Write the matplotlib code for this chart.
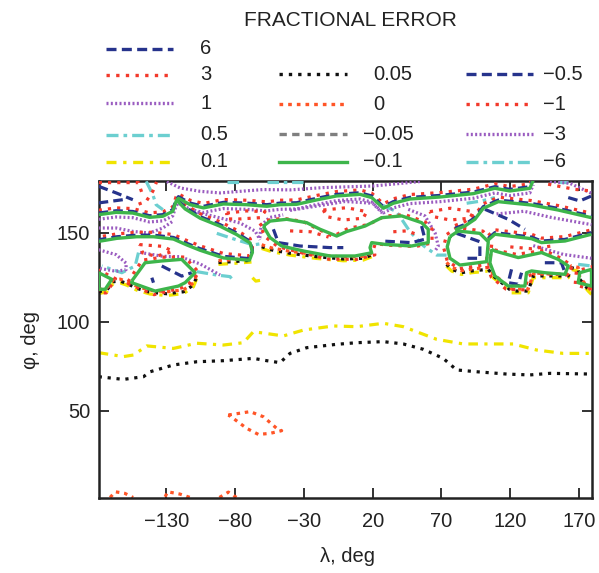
import numpy as np
import matplotlib
matplotlib.use("Agg")
import matplotlib.pyplot as plt
from matplotlib.lines import Line2D

plt.rcParams["font.family"] = ["Liberation Sans", "DejaVu Sans"]

# ---- colours / line styles of the contour levels ----
NAVY = "#26338c"
RED = "#f2392b"
PURPLE = "#9a5cc0"
CYAN = "#6ccfd0"
YELLOW = "#f0e400"
BLACK = "#111111"
ORANGE = "#ff5527"
GRAY = "#7f7f7f"
GREEN = "#3db54b"

DASH = (0, (3.0, 1.6))
DOTS = (0, (1.0, 1.9))
FINE = (0, (0.6, 0.7))
DDOT = (0, (3.6, 1.5, 1.1, 1.5))

LEVEL_STYLE = {
    "6": (NAVY, DASH), "3": (RED, DOTS), "1": (PURPLE, FINE),
    "0.5": (CYAN, DDOT), "0.1": (YELLOW, (0, (3, 2.0, 1, 2.0))),
    "0.05": (BLACK, (0, (1.0, 1.8))), "0": (ORANGE, (0, (1.1, 1.5))),
    "\u22120.05": (GRAY, (0, (2.2, 1.6))), "\u22120.1": (GREEN, "-"),
    "\u22120.5": (NAVY, DASH), "\u22121": (RED, DOTS),
    "\u22123": (PURPLE, FINE), "\u22126": (CYAN, DDOT),
}

# ---- contours (lambda, phi in deg) ----
# level 0.1 and 0.05 across the middle
Y01_LAM = [-179, -161.0, -153.7, -144.1, -124.7, -107.8, -88.4, -73.9, -66.6, -44.8, -30.3,
           -8.5, 8.4, 27.8, 42.3, 66.5, 85.8, 122.1, 139.1, 158.4, 179]
Y01_PHI = [82.6, 80.4, 81.3, 86.4, 85.0, 87.9, 86.9, 88.2, 94.4, 92.0, 95.3,
           97.6, 97.2, 99.1, 97.2, 90.1, 87.5, 87.5, 84.1, 82.2, 82.2]
B005_LAM = [-179, -161.0, -146.5, -141.6, -124.7, -107.8, -88.4, -66.6, -56.9, -47.3, -40.0, -27.9,
            -6.1, 8.4, 27.8, 42.3, 56.8, 71.3, 81.0, 95.5, 117.3, 134.2, 148.8, 179]
B005_PHI = [69.1, 67.6, 69.1, 71.9, 75.7, 77.5, 78.1, 79.4, 78.1, 77.0, 82.2, 85.4,
            87.3, 88.2, 88.8, 87.5, 84.5, 79.4, 72.9, 71.9, 70.6, 70.1, 71.0, 70.6]

# level 0 islands
OR_E_LAM = [-84.8, -69.0, -59.3, -49.7, -46.1, -54.5, -63.0, -71.5, -81.2, -84.8]
OR_E_PHI = [47.6, 49.5, 46.6, 40.1, 38.8, 37.3, 36.7, 40.1, 45.7, 47.6]
OR_A1_LAM = [-170.7, -167.0, -160.0, -154.0]
OR_A1_PHI = [1.3, 4.5, 3.6, 1.3]
OR_A2_LAM = [-130.7, -129.0, -120.0, -112.6]
OR_A2_PHI = [1.7, 4.5, 3.2, 1.3]
OR_A3_LAM = [-91.3, -84.8, -80.6, -77.5]
OR_A3_PHI = [1.3, 4.3, 2.1, 0.8]

# green (-0.1) bands in the upper part
G1_LAM = [-179, -166.3, -154.2, -142.1, -132.4, -125.2, -122.8, -121.1, -112.6, -102.9, -88.4,
          -71.5, -56.9, -47.3, -35.2, -20.6, -6.1, 10.8, 19.3, 27.8, 35.0, 47.1, 68.9, 93.1,
          108.8, 119.7, 134.2, 136.7]
G1_PHI = [160.1, 161.4, 161.0, 158.6, 159.2, 162.0, 167.6, 169.3, 165.7, 163.9, 166.1,
          165.7, 164.8, 165.7, 165.9, 168.4, 170.6, 171.5, 169.7, 163.7, 166.5, 168.9, 170.0, 171.9,
          174.9, 173.4, 174.9, 179.5]
G2_LAM = [-121.8, -116.2, -105.3, -90.8, -78.7, -69.0, -67.3, -69.5, -88.4, -105.3, -115.0,
          -124.7, -139.2, -151.3, -165.8, -179]
G2_PHI = [167.8, 163.3, 158.1, 153.6, 148.9, 144.2, 139.0, 134.5, 135.8, 140.1, 143.1,
          146.4, 147.7, 147.7, 146.8, 145.1]
B3_LAM = [104.0, 108.8, 135.5, 142.7, 159.7, 169.3, 179]
B3_PHI = [145.9, 149.1, 146.6, 144.4, 145.3, 147.2, 149.1]
B4_LAM = [79.8, 87.0, 94.3, 100.4, 111.3, 135.5, 154.8, 179]
B4_PHI = [151.5, 153.7, 157.5, 163.7, 167.4, 165.5, 162.7, 158.4]

# green (-0.1) closed loops
L3_LAM = [-155.0, -145.3, -133.2, -118.7, -109.0, -116.2, -121.1, -138.0, -155.0]
L3_PHI = [122.8, 133.1, 134.1, 135.0, 127.5, 121.9, 120.0, 117.2, 121.9]
LE_LAM = [-179, -169.5, -174.3, -179]
LE_PHI = [127.5, 123.8, 118.2, 118.2]
MID_LAM = [-59.4, -54.5, -42.4, -27.9, -18.2, -6.1, 1.1, 14.5, 26.6, 41.1, 55.6, 60.4, 60.4,
           48.3, 29.0, 19.3, 18.1, 19.3, 7.2, -11.0, -30.3, -46.1, -54.5]
MID_PHI = [153.7, 156.5, 157.5, 155.6, 151.9, 148.1, 150.6, 153.7, 158.4, 159.4, 155.6, 151.9, 144.4,
           142.5, 143.4, 144.4, 141.6, 138.7, 136.9, 136.9, 139.7, 142.5, 147.2]
R1_LAM = [76.2, 82.2, 97.9, 104.0, 102.8, 83.4, 76.2, 74.2]
R1_PHI = [147.8, 150.9, 149.6, 144.9, 133.7, 131.8, 135.6, 142.1]
R2_LAM = [106.4, 105.2, 108.8, 118.5, 130.6, 131.8, 135.5, 145.1, 159.7, 162.1, 154.8, 142.7, 125.8, 108.8]
R2_PHI = [140.6, 133.1, 125.7, 120.0, 120.0, 127.5, 128.5, 127.5, 126.6, 131.3, 135.0, 138.8, 136.0, 139.7]
RE_LAM = [179, 170.5, 169.3, 179]
RE_PHI = [129.4, 127.5, 121.9, 120.0]

# extra navy dashed pieces
NAVY_LINES = [
    ([-179, -166.3, -154.2], [176.0, 172.3, 168.5]),
    ([-179, -161.5], [166.7, 168.5]),
    ([-133.2, -118.7, -111.4], [131.3, 125.6, 127.5]),
    ([-140.4, -139.2], [124.7, 121.9]),
    ([-52.1, -48.5, -32.7, -11.0, -1.3], [151.9, 144.4, 142.5, 141.6, 141.6]),
    ([55.6, 58.0, 48.3, 26.6], [153.7, 146.3, 144.4, 145.3]),
    ([81.0, 97.9, 97.9, 85.8], [149.6, 144.9, 135.6, 135.6]),
    ([120.9, 118.5, 125.8, 128.2], [129.4, 121.9, 121.0, 127.5]),
    ([145.1, 157.2, 159.7], [133.1, 133.1, 127.5]),
    ([101.6, 118.5, 130.6], [163.1, 157.5, 151.9]),
    ([162.1, 170.5, 179], [169.7, 167.8, 170.6]),
]
# purple fine-dotted pieces
PURPLE_LINES = [
    ([-129.5, -119.9, -105.3, -90.8, -76.3, -59.4, -40.0, -15.8, 20.5, 54.4],
     [178.7, 175.1, 173.2, 172.3, 173.2, 174.2, 174.0, 175.3, 176.2, 178.7]),
    ([-110.2, -95.7, -76.3, -65.4, -61.8], [162.0, 159.2, 155.4, 150.9, 146.0]),
    ([-62.0, -61.0, -55.0, -45.0], [147.0, 154.0, 158.5, 160.0]),
    ([-179, -166.3, -154.2, -142.1, -132.4, -125.2], [152.6, 152.6, 150.7, 149.8, 152.6, 156.4]),
    ([-179, -166.3, -159.1, -159.1, -166.3, -179], [140.4, 137.6, 132.9, 129.2, 128.3, 130.0]),
    ([-148.9, -132.4, -119.9, -105.3, -95.7, -90.8], [138.9, 136.7, 136.5, 132.4, 128.3, 126.2]),
    ([45.9, 58.0, 65.3, 67.7, 65.3], [163.1, 159.4, 150.0, 142.5, 139.7]),
    ([136.7, 158.4, 179], [142.7, 137.8, 135.6]),
    ([148.8, 163.3, 179], [178.7, 177.7, 172.1]),
    ([-40.0, -20.0, 0.0, 20.0, 27.0], [162.5, 165.0, 167.5, 166.5, 161.0]),
    ([110.0, 130.0, 150.0, 179.0], [160.5, 162.0, 158.5, 154.5]),
]
# cyan dash-dot pieces
CYAN_LINES = [
    ([-86, -74], [178.3, 178.3]),
    ([-57, -28], [178.3, 178.3]),
    ([-144.5, -139.7, -137.3, -132.4], [178.8, 171.4, 165.7, 162.9]),
    ([-93.2, -78.7, -66.6, -59.4], [149.6, 145.9, 143.1, 144.0]),
    ([-107.8, -93.2, -83.6, -80.7], [128.1, 126.2, 125.3, 122.5]),
    ([-150.1, -152.5, -162.2, -176.7], [138.8, 131.3, 127.5, 131.3]),
    ([27.8, 37.4, 47.1, 56.8, 66.5, 73.7], [165.2, 161.8, 150.6, 142.7, 137.4, 137.4]),
    ([88.3, 99.2, 108.8], [166.5, 167.8, 169.7]),
    ([169.3, 179], [132.2, 131.3]),
    ([154.8, 162.1], [178.3, 178.3]),
]
# red dotted pieces and islands
RED_LINES = [
    ([-150.0, -144.5, -139.7, -137.0], [166.0, 167.6, 173.2, 178.5]),
    ([-179, -150.1, -147.7], [178.1, 178.1, 172.5]),
    ([-86.0, -71.5, -58.2, -61.8, -76.3, -86.0, -86.0], [161.0, 162.2, 161.8, 158.4, 157.7, 157.7, 161.0]),
    ([-15.8, 1.1, 15.7, 13.2, -1.3, -13.4, -15.8], [162.7, 164.0, 161.8, 158.1, 157.1, 159.0, 162.7]),
    ([61.6, 76.2, 93.1, 90.7, 76.2, 64.1, 61.6], [161.8, 163.7, 161.8, 158.1, 157.1, 159.0, 161.8]),
    ([-149.4, -132.4, -125.2, -137.3, -147.0, -149.4], [143.3, 142.3, 139.5, 136.7, 138.6, 143.3]),
    ([147.5, 166.9, 179], [177.2, 174.3, 173.4]),
    ([-40.0, -25.0, -12.0], [151.0, 150.5, 147.5]),
    ([35.0, 45.0, 52.0], [150.5, 151.0, 149.0]),
    ([120.0, 135.0, 150.0], [142.0, 141.0, 142.5]),
]
# black (0.05) lines hugging the lower edge of the band
EDGE_LINES = [
    ([-179, -173.1, -168.3, -163.4, -158.6, -151.3, -141.6, -129.5, -117.4, -110.2, -107.3],
     [116.8, 117.8, 122.5, 122.8, 121.5, 118.7, 116.5, 115.7, 116.8, 120.6, 126.2]),
    ([-92.0, -80.0, -68.0], [133.2, 133.8, 134.5]),
    ([-60.6, -53.3, -40.0, -20.6, -1.3, 13.2, 20.5], [142.1, 140.3, 138.4, 136.5, 135.2, 135.6, 137.8]),
    ([73.7, 77.4, 84.6, 91.9, 104.0, 107.6, 113.7, 120.9, 133.0, 136.7, 147.5, 162.1, 164.5,
      169.3, 170.5, 176.6, 179],
     [132.2, 129.4, 127.5, 128.5, 129.4, 125.7, 121.9, 117.2, 117.2, 125.7, 125.7, 125.7, 130.3,
      129.4, 123.8, 118.2, 116.3]),
]
YS_LAM = [-67.3, -64.9, -61.8]
YS_PHI = [124.7, 122.8, 123.2]

X_TICKS = [-130, -80, -30, 20, 70, 120, 170]
Y_TICKS = [50, 100, 150]

LEGEND_COLS = [
    ["6", "3", "1", "0.5", "0.1"],
    ["0.05", "0", "\u22120.05", "\u22120.1"],
    ["\u22120.5", "\u22121", "\u22123", "\u22126"],
]

W, H = 599, 573
LW = 2.3
fig = plt.figure(figsize=(W / 100, H / 100), dpi=100)
ax = fig.add_axes([98.7 / W, 1 - 498 / H, (591.5 - 98.7) / W, (498 - 181) / H])


def line(lam, phi, level, lw=LW, z=2, dphi=0.0):
    color, ls = LEVEL_STYLE[level]
    ax.plot(lam, np.asarray(phi) + dphi, color=color, linestyle=ls, lw=lw, zorder=z,
            solid_capstyle="butt", dash_capstyle="butt")


def grow(lam, phi, px=3.8):
    # push a closed outline outward by ~px pixels (1.378 px/deg in lambda, 1.78 in phi)
    lam, phi = np.asarray(lam, float), np.asarray(phi, float)
    cx, cy = lam.mean(), phi.mean()
    dx, dy = (lam - cx) * 1.378, (phi - cy) * 1.78
    r = np.hypot(dx, dy) + 1e-9
    return lam + dx / r * px / 1.378, phi + dy / r * px / 1.78


def closed(lam, phi):
    return list(lam) + [lam[0]], list(phi) + [phi[0]]


# middle lines
line(Y01_LAM, Y01_PHI, "0.1")
line(B005_LAM, B005_PHI, "0.05")
line(OR_E_LAM, OR_E_PHI, "0")
for lam, phi in [(OR_A1_LAM, OR_A1_PHI), (OR_A2_LAM, OR_A2_PHI), (OR_A3_LAM, OR_A3_PHI)]:
    line(lam, phi, "0")

# lower edge of the upper band: yellow, black, orange
for lam, phi in EDGE_LINES:
    line(lam, phi, "0.1", dphi=-1.0, z=2)
    line(lam, phi, "0.05", z=3)
    line(lam, phi, "0", dphi=1.1, z=3)
line(YS_LAM, YS_PHI, "0.1")

for lam, phi in CYAN_LINES:
    line(lam, phi, "\u22126", z=3)
for lam, phi in PURPLE_LINES:
    line(lam, phi, "\u22123", z=3)
for lam, phi in RED_LINES:
    line(lam, phi, "\u22121", z=4)
for lam, phi in NAVY_LINES:
    line(lam, phi, "\u22120.5", z=5)

# bands: purple and red outside, navy, green
for lam, phi in [(G1_LAM, G1_PHI), (G2_LAM, G2_PHI), (B3_LAM, B3_PHI), (B4_LAM, B4_PHI)]:
    line(lam, phi, "\u22121", dphi=2.5, z=4)
    line(lam, phi, "\u22120.5", dphi=0.9, z=5)
    line(lam, phi, "\u22120.1", lw=2.4, z=6)
line(G1_LAM, G1_PHI, "\u22123", dphi=-2.6, z=3)

# loops
for lam, phi in [(L3_LAM, L3_PHI), (LE_LAM, LE_PHI), (MID_LAM, MID_PHI),
                 (R1_LAM, R1_PHI), (R2_LAM, R2_PHI), (RE_LAM, RE_PHI)]:
    cl, cp = closed(lam, phi)
    gl, gp = grow(cl, cp)
    line(gl, gp, "\u22121", z=4)
    line(cl, cp, "\u22120.1", lw=2.4, z=6)

ax.set_xlim(-179, 179)
ax.set_ylim(1, 179)
ax.set_xticks(X_TICKS)
ax.set_yticks(Y_TICKS)
ax.set_xticklabels([str(t).replace("-", "\u2212") for t in X_TICKS])
ax.tick_params(direction="in", length=7.5, width=1.3, top=True, right=True,
               labelsize=14.5, colors="#222222", pad=10)
ax.tick_params(axis="y", pad=6)
for s in ax.spines.values():
    s.set_linewidth(1.8)
    s.set_color("#222222")

fig.text(347 / W, 1 - 557 / H, "\u03bb, deg", fontsize=14.5, ha="center", va="center", color="#222222")
fig.text(31 / W, 1 - 340 / H, "\u03c6, deg", fontsize=14.5, ha="center", va="center",
         rotation=90, color="#222222")

# legend drawn by hand in figure pixels
fig.text(350 / W, 1 - 20 / H, "FRACTIONAL ERROR", fontsize=15, ha="center", va="center", color="#222222")
col_line_x = [(106, 173), (279, 347), (466, 533)]
col_text_x = [200, 373, 543]
rows_y = [[48.5, 74.5, 103.5, 135, 161.5], [74, 104, 134, 161.5], [74, 104, 134, 161.5]]
for c, levels in enumerate(LEGEND_COLS):
    x0, x1 = col_line_x[c]
    for r, lev in enumerate(levels):
        y = 1 - rows_y[c][r] / H
        color, ls = LEVEL_STYLE[lev]
        fig.add_artist(Line2D([x0 / W, x1 / W], [y, y], color=color, linestyle=ls,
                              lw=2.4, transform=fig.transFigure))
        tx = col_text_x[c] - (10 if (c == 1 and lev.startswith("\u2212")) else 0)
        fig.text(tx / W, y, lev, fontsize=14.5, ha="left", va="center", color="#222222")

fig.savefig("out.png", dpi=100, facecolor="white")
